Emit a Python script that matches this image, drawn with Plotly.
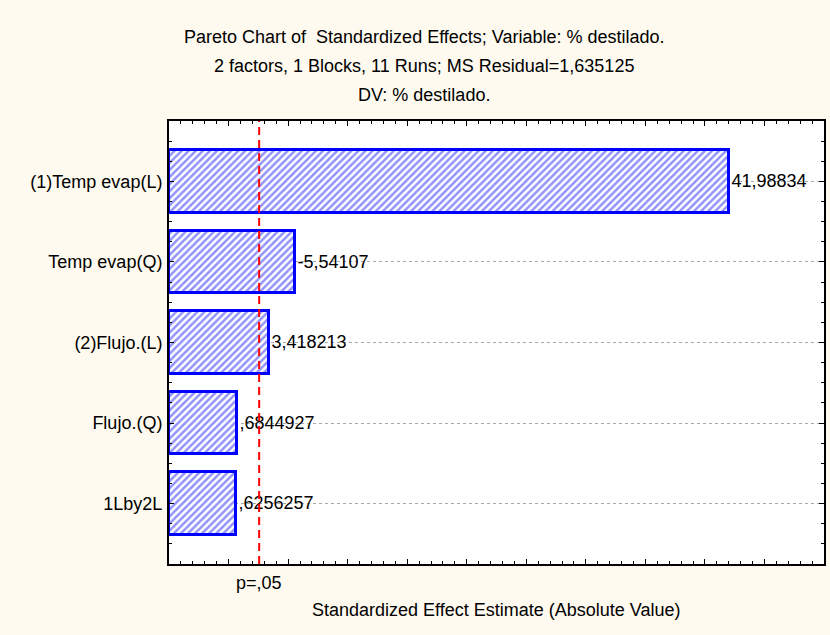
import plotly.graph_objects as go

# ---- data ----
categories = ["(1)Temp evap(L)", "Temp evap(Q)", "(2)Flujo.(L)", "Flujo.(Q)", "1Lby2L"]
effects = [41.98834, -5.54107, 3.418213, 0.6844927, 0.6256257]
effect_labels = ["41,98834", "-5,54107", "3,418213", ",6844927", ",6256257"]
p_crit = 2.570582
p_label = "p=,05"
axis_min = -5
axis_max = 50

title_lines = [
    "Pareto Chart of  Standardized Effects; Variable: % destilado.",
    "2 factors, 1 Blocks, 11 Runs; MS Residual=1,635125",
    "DV: % destilado.",
]
x_title = "Standardized Effect Estimate (Absolute Value)"

FONT = "Liberation Sans, Arial, sans-serif"
W, H = 830, 635
ml, mr, mt, mb = 169, 4, 121, 71
plot_h = H - mt - mb
plot_w = W - ml - mr

ypos = list(range(len(categories)))
lengths = [abs(v) - axis_min for v in effects]

fig = go.Figure()
fig.add_trace(go.Bar(
    y=ypos,
    x=lengths,
    base=axis_min,
    orientation="h",
    width=0.78,
    marker=dict(
        color="white",
        line=dict(color="#0000FF", width=3),
        pattern=dict(shape="/", fgcolor="#2626F2", bgcolor="white", size=5, solidity=0.5),
    ),
    text=effect_labels,
    textposition="outside",
    constraintext="none",
    cliponaxis=False,
    textfont=dict(family=FONT, size=18, color="black"),
    hoverinfo="skip",
))

fig.add_shape(type="line", x0=p_crit, x1=p_crit, xref="x", y0=0, y1=1, yref="paper",
              line=dict(color="#FF0000", width=2, dash="8px,5px"), layer="above")

def py(pix):
    return (H - mb - pix) / plot_h

annotations = []
for txt, yp in zip(title_lines, [37, 66, 95]):
    annotations.append(dict(text=txt, xref="paper", yref="paper",
                            x=(425 - ml) / plot_w, y=py(yp), xanchor="center", yanchor="middle",
                            showarrow=False, font=dict(family=FONT, size=18, color="black")))
annotations.append(dict(text=p_label, xref="x", yref="paper", x=p_crit, y=py(583),
                        xanchor="center", yanchor="middle", showarrow=False,
                        font=dict(family=FONT, size=18, color="black")))
annotations.append(dict(text=x_title, xref="paper", yref="paper", x=0.5, y=py(610),
                        xanchor="center", yanchor="middle", showarrow=False,
                        font=dict(family=FONT, size=18, color="black")))

fig.update_layout(
    width=W, height=H,
    margin=dict(l=ml, r=mr, t=mt, b=mb),
    paper_bgcolor="#FEFAEF",
    plot_bgcolor="white",
    showlegend=False,
    annotations=annotations,
    bargap=0,
    xaxis=dict(
        range=[axis_min, axis_max],
        showgrid=False, zeroline=False,
        showline=True, linecolor="black", linewidth=2, mirror="ticks",
        ticks="inside", tick0=0, dtick=5, ticklen=5, tickcolor="black", tickwidth=1,
        showticklabels=False,
        minor=dict(ticks="inside", dtick=1, tick0=0, ticklen=3, tickcolor="black", showgrid=False),
    ),
    yaxis=dict(
        range=[len(categories) - 0.25, -0.75],
        tickmode="array", tickvals=ypos, ticktext=categories,
        showgrid=True, gridcolor="#AAAAAA", griddash="dot", gridwidth=1,
        zeroline=False,
        showline=True, linecolor="black", linewidth=2, mirror="ticks",
        ticks="inside", ticklen=5, tickcolor="black", tickwidth=1,
        ticklabelstandoff=1,
        tickfont=dict(family=FONT, size=18, color="black"),
        minor=dict(ticks="inside", tick0=-0.75, dtick=0.25, ticklen=3, tickcolor="black", showgrid=False),
    ),
)

fig.write_html("out.html")
